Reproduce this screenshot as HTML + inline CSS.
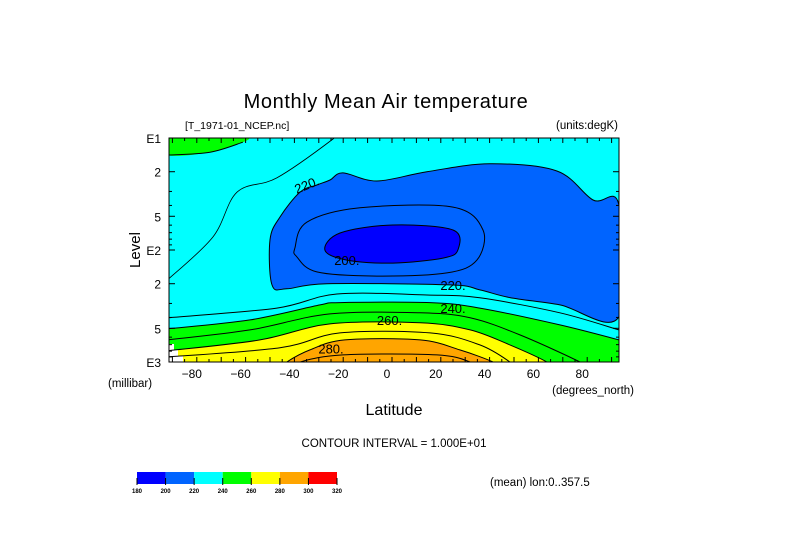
<!DOCTYPE html>
<html><head><meta charset="utf-8">
<style>
html,body{margin:0;padding:0;background:#fff;}
svg{display:block;font-family:"Liberation Sans",sans-serif;}
</style></head>
<body>
<svg id="chart" width="789" height="558" viewBox="0 0 789 558">
<defs><clipPath id="plotclip"><rect x="169" y="138" width="450" height="224"/></clipPath></defs>
<g id="fills" clip-path="url(#plotclip)"></g>
<g id="lines" clip-path="url(#plotclip)"></g>
<g id="axes"></g>
<text x="386" y="108" font-size="20" text-anchor="middle" letter-spacing="0.6">Monthly Mean Air temperature</text>
<text x="185" y="129" font-size="10.5">[T_1971-01_NCEP.nc]</text>
<text x="618" y="129" font-size="11.5" text-anchor="end">(units:degK)</text>
<text x="140" y="250" font-size="15" text-anchor="middle" transform="rotate(-90 140 250)">Level</text>
<text x="108" y="387" font-size="11.5">(millibar)</text>
<text x="634" y="394" font-size="11.5" text-anchor="end">(degrees_north)</text>
<text x="394" y="415" font-size="16" text-anchor="middle">Latitude</text>
<text x="394" y="447" font-size="11.5" text-anchor="middle">CONTOUR INTERVAL = 1.000E+01</text>
<text x="490" y="486" font-size="11.5">(mean) lon:0..357.5</text>
<g id="colorbar"></g>
</svg>
<script>
// ---- data ----
const levelColors = ["#0000ff","#0064ff","#00ffff","#00ff00","#ffff00","#ffa500","#ff0000"];
const levelTicks = [180,200,220,240,260,280,300,320];
const xTicks = [-80,-60,-40,-20,0,20,40,60,80];
const yTickVals = [10,20,50,100,200,500,1000];
const yTickLabels = ["E1","2","5","E2","2","5","E3"];
// contour polygons / lines: [latitude, pressure hPa]
const green240TopLeft = [[-92,10],[-92,14.2],[-74.6,13.4],[-61.1,10.9],[-58.2,10]];
const blue200to220 = [[-25.4,23.7],[-20.1,20.5],[-6.2,24.2],[14.3,20],[40.1,17],[67.6,19.7],[82.4,35.8],[93,39.6],[93,395],[68.8,309],[48.3,266],[36,227],[23.8,205],[-26.7,200],[-43.1,222],[-49.2,205],[-50,81],[-45.9,50.7],[-37.7,30.4],[-30.8,26.3]];
const darkBelow200 = [[-27.5,100],[-21.3,70.5],[0.4,59.8],[25,66.3],[27,100],[20.9,118],[0.4,131],[-18.5,123]];
const line210 = [[-39.8,96],[-34.9,56.5],[-13.1,42],[25,41.4],[37.3,66.3],[34.8,123],[22.5,160],[-6.2,171],[-30.8,157],[-39,115]];
const line230Top = [[-92,185],[-73.4,76.6],[-63.5,30.4],[-47.2,22.7],[-24.2,10.2],[-20,8]];
const line230Bottom = [[-92,403],[-47.2,330],[-22.6,247],[14.3,252],[36,267],[68.8,364],[93,517]];
const edge240 = [[-92,505],[-58.2,421],[-29.5,309],[-21.3,295],[15.6,295],[36,330],[68.8,466],[93,635]];
const line250 = [[-92,635],[-58.2,517],[-25.4,372],[11.5,364],[32,403],[52.4,573],[77,1000],[78,1100]];
const edge260 = [[-92,795],[-54.1,635],[-25.4,457],[11.5,447],[32,517],[48.3,704],[63.5,1000],[64,1100]];
const line270 = [[-92,900],[-45.9,747],[-21.3,550],[15.6,550],[36,704],[48.3,1000],[49,1100]];
const edge280 = [[-44,1100],[-43.1,1000],[-33.6,780],[-19.3,635],[11.5,635],[27.8,780],[41.4,1000],[42,1100]];
const line290 = [[-38.5,1100],[-37.7,1000],[-20.1,864],[18.4,864],[32,1000],[33,1100]];
const labelTexts = ["220.","200.","220.","240.","260.","280."];
const labelPos = [[-35,26],[-18.5,123],[25,205],[25,330],[-1,420],[-25,760]];
const labelAngle = [-22,0,0,0,0,0];

// ---- scales ----
const X0=169,X1=619,Y0=138,Y1=362;
function xS(lat){return 392+2.44*lat;}
function yS(p){return Y0+(Math.log10(p)-1)*112;}
const NS="http://www.w3.org/2000/svg";
function mk(tag,attrs,parent){const e=document.createElementNS(NS,tag);for(const k in attrs)e.setAttribute(k,attrs[k]);parent.appendChild(e);return e;}
function pts(arr){return arr.map(d=>[xS(d[0]),yS(d[1])]);}
function spline(p,closed){
  const n=p.length;let d="M"+p[0][0].toFixed(1)+","+p[0][1].toFixed(1);
  const g=i=>closed?p[(i+n)%n]:p[Math.max(0,Math.min(n-1,i))];
  const last=closed?n:n-1;
  for(let i=0;i<last;i++){const p0=g(i-1),p1=g(i),p2=g(i+1),p3=g(i+2);
    const c1=[p1[0]+(p2[0]-p0[0])/6,p1[1]+(p2[1]-p0[1])/6],c2=[p2[0]-(p3[0]-p1[0])/6,p2[1]-(p3[1]-p1[1])/6];
    d+="C"+c1[0].toFixed(1)+","+c1[1].toFixed(1)+" "+c2[0].toFixed(1)+","+c2[1].toFixed(1)+" "+p2[0].toFixed(1)+","+p2[1].toFixed(1);}
  return closed?d+"Z":d;
}
const fills=document.getElementById('fills'),lines=document.getElementById('lines'),axes=document.getElementById('axes');

let r=mk('rect',{x:X0,y:Y0,width:X1-X0,height:Y1-Y0,fill:levelColors[2]},fills);


function bottomFill(edge,color,name){
  let d=spline(pts(edge),false);
  const p=pts(edge);d+="L"+p[p.length-1][0]+",380L"+p[0][0]+",380Z";
  const e=mk('path',{d:d,fill:color},fills);
  
  
}
function closedFill(arr,color,name){
  const e=mk('path',{d:spline(pts(arr),true),fill:color},fills);
  
  
}
function polyFill(arr,color,name){
  const e=mk('path',{d:spline(pts(arr),false)+"Z",fill:color},fills);
  
  
}
polyFill(green240TopLeft,levelColors[3],'fill-240-topleft');
closedFill(blue200to220,levelColors[1],'fill-200-220');
closedFill(darkBelow200,levelColors[0],'fill-below-200');
bottomFill(edge240,levelColors[3],'fill-240-260');
bottomFill(edge260,levelColors[4],'fill-260-280');
bottomFill(edge280,levelColors[5],'fill-280-300');
// missing data corner
const wc=mk('path',{d:"M169,362L169,344L174,344L174,350L178,350L178,356L183,356L183,362Z",fill:"#fff"},fills);



function contour(arr,closed,name,w){
  const e=mk('path',{d:spline(pts(arr),closed),fill:"none",stroke:"#000","stroke-width":w||1},lines);
  
  
}
contour(green240TopLeft.slice(1,4),false,'contour-240-top');
contour(blue200to220,true,'contour-220');
contour(darkBelow200,true,'contour-200');
contour(line210,true,'contour-210');
contour(line230Top,false,'contour-230-top',0.8);
contour(line230Bottom,false,'contour-230-bottom');
contour(edge240,false,'contour-240');
contour(line250,false,'contour-250');
contour(edge260,false,'contour-260');
contour(line270,false,'contour-270');
contour(edge280,false,'contour-280');
contour(line290,false,'contour-290');
labelTexts.forEach((t,i)=>{
  const x=xS(labelPos[i][0]),y=yS(labelPos[i][1]);
  const e=mk('text',{x:x,y:y+5,'font-size':13,'text-anchor':'middle',transform:`rotate(${labelAngle[i]} ${x} ${y})`},lines);
  e.textContent=t;
  
  
});

// axes
const fr=mk('rect',{x:X0,y:Y0,width:X1-X0,height:Y1-Y0,fill:"none",stroke:"#000","stroke-width":1},axes);


for(let lat=-90;lat<=90;lat+=5){
  const x=xS(lat);if(x<X0||x>X1)continue;const L=lat%10===0?5:3;
  mk('line',{x1:x,y1:Y1,x2:x,y2:Y1-L,stroke:"#000"},axes);
  mk('line',{x1:x,y1:Y0,x2:x,y2:Y0+L,stroke:"#000"},axes);
}
xTicks.forEach(v=>{
  const e=mk('text',{x:xS(v)-5,y:378,'font-size':12,'text-anchor':'middle'},axes);
  e.textContent=(v<0?"\u2212":"")+Math.abs(v);
  
  
});
[10,20,30,40,50,60,70,80,90,100,200,300,400,500,600,700,800,900,1000].forEach(p=>{
  const y=yS(p);const L=yTickVals.includes(p)?6:3;
  mk('line',{x1:X0,y1:y,x2:X0+L,y2:y,stroke:"#000"},axes);
  mk('line',{x1:X1,y1:y,x2:X1-L,y2:y,stroke:"#000"},axes);
});
yTickVals.forEach((p,i)=>{
  const e=mk('text',{x:161,y:yS(p)+5,'font-size':12,'text-anchor':'end'},axes);
  e.textContent=yTickLabels[i];
  
  
});

// colorbar
const cb=document.getElementById('colorbar');const cw=200/levelColors.length;
levelColors.forEach((c,i)=>{
  const e=mk('rect',{x:137+i*cw,y:472,width:cw,height:12,fill:c},cb);
  
  
});
levelTicks.forEach((v,i)=>{
  const x=137+i*cw;
  mk('line',{x1:x,y1:478,x2:x,y2:485,stroke:"#000"},cb);
  const e=mk('text',{x:x,y:493,'font-size':6,'font-weight':'bold','text-anchor':'middle'},cb);
  e.textContent=v;
  
  
});
</script>
</body></html>
